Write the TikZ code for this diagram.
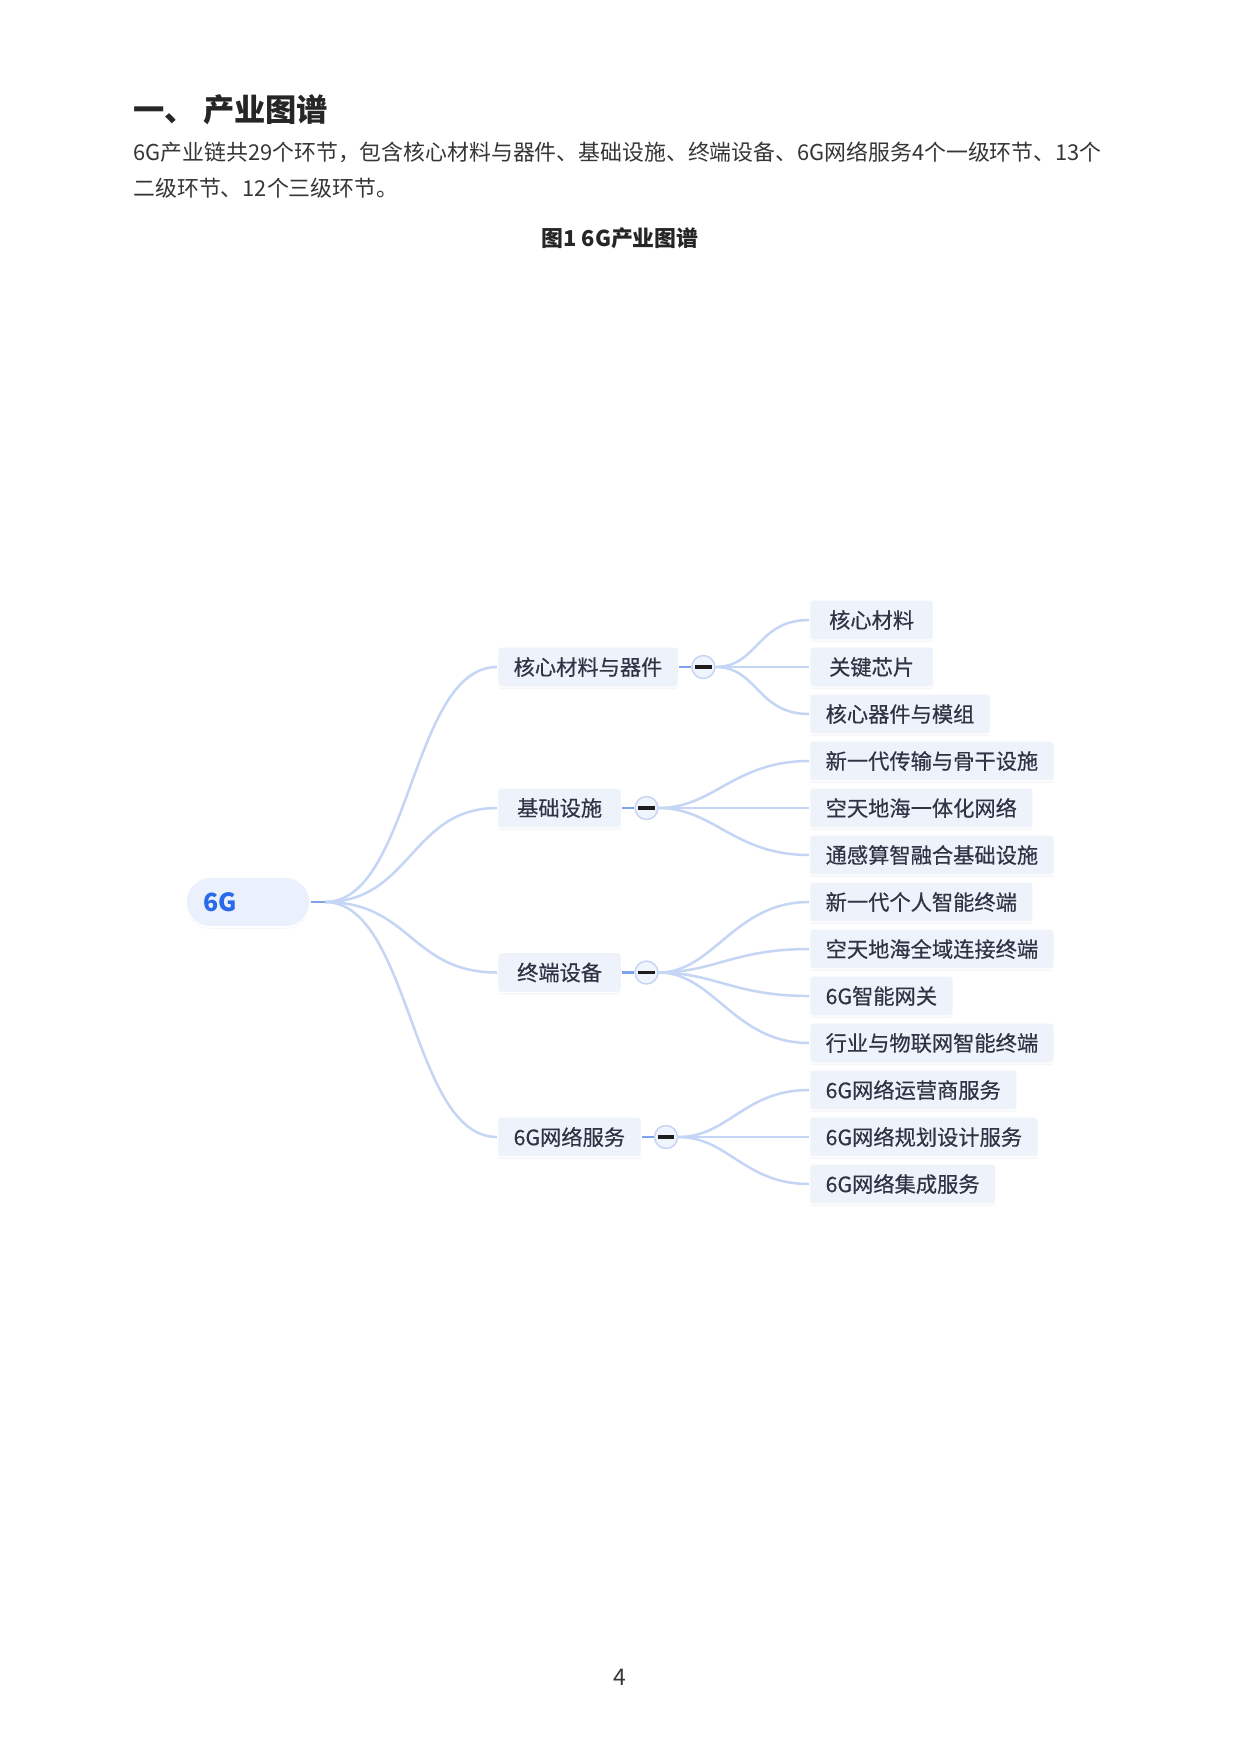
\documentclass[tikz,border=0pt]{standalone}
\usepackage{fontspec}
\setmainfont{Noto Sans CJK SC}
\newfontfamily\mapfont[FakeBold=0.45]{Noto Sans CJK SC}
\usetikzlibrary{positioning, shadows}
\definecolor{pagetext}{HTML}{262626}
\definecolor{bodytext}{HTML}{363636}
\definecolor{nodetext}{HTML}{2F3445}
\definecolor{boxfill}{HTML}{EEF2FA}
\definecolor{hubfill}{HTML}{EAF0FC}
\definecolor{hubblue}{HTML}{2A69E8}
\definecolor{linkblue}{HTML}{C4D5F5}
\definecolor{stubblue}{HTML}{7EA2EC}
\definecolor{togglefill}{HTML}{F0F4FD}
\definecolor{minusdark}{HTML}{1E1E1E}
\tikzstyle{hubpill} = [rectangle, rounded corners=12pt, minimum height=24pt, text width=43.2pt, inner xsep=8.2pt, align=left, fill=hubfill, draw=white, line width=0.8pt, text=hubblue, font=\fontsize{12pt}{14pt}\selectfont\bfseries, drop shadow={opacity=0.07, shadow xshift=0pt, shadow yshift=-1pt}]
\tikzstyle{branchbox} = [rectangle, rounded corners=1.5pt, anchor=west, minimum height=19.2pt, minimum width=59.5pt, inner xsep=7.7pt, fill=boxfill, draw=white, line width=0.6pt, text=nodetext, font=\fontsize{10.2pt}{12pt}\mapfont, drop shadow={opacity=0.07, shadow xshift=0pt, shadow yshift=-1pt}]
\tikzstyle{leafbox} = [branchbox]
\tikzstyle{togglemark} = [circle, minimum size=11pt, inner sep=0pt, fill=togglefill, draw=linkblue, line width=0.7pt, text=minusdark]
\tikzstyle{linkcurve} = [draw=linkblue, line width=1.2pt]
\tikzstyle{stub} = [draw=stubblue, line width=1.4pt]
\tikzstyle{pagelabel} = [inner sep=0pt, text=bodytext, font=\fontsize{10.5pt}{12pt}\selectfont]

\begin{document}
\begin{tikzpicture}[x=0.48pt, y=-0.48pt]
    \fill [white] (0,0) rectangle (1240,1753);
    \useasboundingbox (0,0) rectangle (1240,1753);

    % page text
    \node (heading) [pagelabel, anchor=west, text=pagetext, font=\fontsize{15pt}{17pt}\selectfont\bfseries] at (133,110) {一、 产业图谱};
    \node (introa) [pagelabel, anchor=west] at (133,152) {6G产业链共29个环节，包含核心材料与器件、基础设施、终端设备、6G网络服务4个一级环节、13个};
    \node (introb) [pagelabel, anchor=west] at (133,188) {二级环节、12个三级环节。};
    \node (caption) [pagelabel, text=pagetext, font=\fontsize{10.5pt}{12pt}\selectfont\bfseries] at (620,238) {图1 6G产业图谱};
    \node (pagenum) [pagelabel, font=\fontsize{11pt}{12pt}\selectfont] at (620,1677) {4};

    % root and first level
    \node (hub) [hubpill] at (248,902) {6G};
    \coordinate [right=6.7pt of hub.east] (hubout);
    \node (core) [branchbox] at (497,667) {核心材料与器件};
    \node (infra) [branchbox] at (497,808) {基础设施};
    \node (terminal) [branchbox] at (497,972.5) {终端设备};
    \node (service) [branchbox] at (497,1137) {6G网络服务};
    \node (coretoggle) [togglemark, right=5.8pt of core] {\rule[-0.75pt]{7.9pt}{1.5pt}};
    \node (infratoggle) [togglemark, right=5.8pt of infra] {\rule[-0.75pt]{7.9pt}{1.5pt}};
    \node (terminaltoggle) [togglemark, right=5.8pt of terminal] {\rule[-0.75pt]{7.9pt}{1.5pt}};
    \node (servicetoggle) [togglemark, right=5.8pt of service] {\rule[-0.75pt]{7.9pt}{1.5pt}};

    % second level
    \node (material) [leafbox] at (809,620) {核心材料};
    \node (chip) [leafbox] at (809,667) {关键芯片};
    \node (module) [leafbox] at (809,714) {核心器件与模组};
    \node (backbone) [leafbox] at (809,761) {新一代传输与骨干设施};
    \node (spacenet) [leafbox] at (809,808) {空天地海一体化网络};
    \node (fusion) [leafbox] at (809,855) {通感算智融合基础设施};
    \node (personal) [leafbox] at (809,902) {新一代个人智能终端};
    \node (fullarea) [leafbox] at (809,949) {空天地海全域连接终端};
    \node (gateway) [leafbox] at (809,996) {6G智能网关};
    \node (iot) [leafbox] at (809,1043) {行业与物联网智能终端};
    \node (operator) [leafbox] at (809,1090) {6G网络运营商服务};
    \node (planning) [leafbox] at (809,1137) {6G网络规划设计服务};
    \node (integration) [leafbox] at (809,1184) {6G网络集成服务};

    \draw [linkcurve] (hubout) .. controls +(86,0) and +(-86,0) .. (core.west);
    \draw [linkcurve] (hubout) .. controls +(86,0) and +(-86,0) .. (infra.west);
    \draw [linkcurve] (hubout) .. controls +(86,0) and +(-86,0) .. (terminal.west);
    \draw [linkcurve] (hubout) .. controls +(86,0) and +(-86,0) .. (service.west);
    \draw [stub] (hub.east) -- (hubout);

    \draw [stub] (core.east) -- (coretoggle.west);
    \draw [stub] (infra.east) -- (infratoggle.west);
    \draw [stub] (terminal.east) -- (terminaltoggle.west);
    \draw [stub] (service.east) -- (servicetoggle.west);

    \draw [linkcurve] (coretoggle.east) .. controls +(42,0) and +(-52,0) .. (material.west);
    \draw [linkcurve] (coretoggle.east) -- (chip.west);
    \draw [linkcurve] (coretoggle.east) .. controls +(42,0) and +(-52,0) .. (module.west);
    \draw [linkcurve] (infratoggle.east) .. controls +(55,0) and +(-75,0) .. (backbone.west);
    \draw [linkcurve] (infratoggle.east) -- (spacenet.west);
    \draw [linkcurve] (infratoggle.east) .. controls +(55,0) and +(-75,0) .. (fusion.west);
    \draw [linkcurve] (terminaltoggle.east) .. controls +(55,0) and +(-75,0) .. (personal.west);
    \draw [linkcurve] (terminaltoggle.east) .. controls +(55,0) and +(-75,0) .. (fullarea.west);
    \draw [linkcurve] (terminaltoggle.east) .. controls +(55,0) and +(-75,0) .. (gateway.west);
    \draw [linkcurve] (terminaltoggle.east) .. controls +(55,0) and +(-75,0) .. (iot.west);
    \draw [linkcurve] (servicetoggle.east) .. controls +(50,0) and +(-65,0) .. (operator.west);
    \draw [linkcurve] (servicetoggle.east) -- (planning.west);
    \draw [linkcurve] (servicetoggle.east) .. controls +(50,0) and +(-65,0) .. (integration.west);
\end{tikzpicture}
\end{document}
